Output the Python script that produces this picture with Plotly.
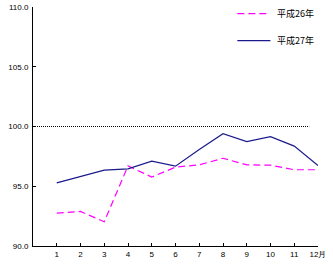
import plotly.graph_objects as go

months = [1, 2, 3, 4, 5, 6, 7, 8, 9, 10, 11, 12]
month_labels = ["1", "2", "3", "4", "5", "6", "7", "8", "9", "10", "11", "12月"]
h26 = [92.75, 92.89, 92.03, 96.70, 95.77, 96.60, 96.79, 97.34, 96.79, 96.76, 96.38, 96.38]
h27 = [95.28, 95.82, 96.35, 96.46, 97.10, 96.68, 98.08, 99.40, 98.74, 99.15, 98.36, 96.73]
series_names = ["平成26年", "平成27年"]
y_ticks = [90, 95, 100, 105, 110]
y_tick_labels = ["90.0", "95.0", "100.0", "105.0", "110.0"]

pink = "#FF00FF"
navy = "#1A1A8C"
font = dict(family="Liberation Sans, Arial, sans-serif", size=8, color="#000000")

fig = go.Figure()
fig.add_trace(go.Scatter(x=months, y=h26, mode="lines", name=series_names[0],
                         line=dict(color=pink, width=1.2, dash="7px,4px"), showlegend=False))
fig.add_trace(go.Scatter(x=months, y=h27, mode="lines", name=series_names[1],
                         line=dict(color=navy, width=1.2), showlegend=False))

# reference line at 100
fig.add_shape(type="line", xref="x", yref="y", x0=0, x1=11.63, y0=100, y1=100,
              line=dict(color="#000000", width=1, dash="1px,1px"))

# manual legend
leg = [(0.972, pink, "7px,4px", series_names[0]), (0.859, navy, "solid", series_names[1])]
for yy, col, dsh, name in leg:
    fig.add_shape(type="line", xref="paper", yref="paper", x0=0.717, x1=0.833, y0=yy, y1=yy,
                  line=dict(color=col, width=1.2, dash=dsh))
    fig.add_annotation(xref="paper", yref="paper", x=0.850, y=yy, text=name, showarrow=False,
                       xanchor="left", yanchor="middle",
                       font=dict(family="Noto Sans CJK JP, sans-serif", size=9, color="#000000"))

fig.update_layout(
    width=333, height=266,
    margin=dict(l=32.5, r=15.3, t=7, b=20, autoexpand=False),
    paper_bgcolor="white", plot_bgcolor="white",
    font=font,
)
fig.update_xaxes(range=[0, 12], tickvals=months, ticktext=month_labels, automargin=False,
                 showgrid=False, zeroline=False, showline=True, linecolor="#000000", linewidth=1,
                 ticks="inside", ticklen=3, tickcolor="#000000", tickfont=font)
fig.update_yaxes(range=[90, 110], tickvals=y_ticks, ticktext=y_tick_labels, automargin=False,
                 showgrid=False, zeroline=False, showline=True, linecolor="#000000", linewidth=1,
                 ticks="inside", ticklen=3, tickcolor="#000000", tickfont=font, ticklabelstandoff=2)

fig.write_html("out.html")
